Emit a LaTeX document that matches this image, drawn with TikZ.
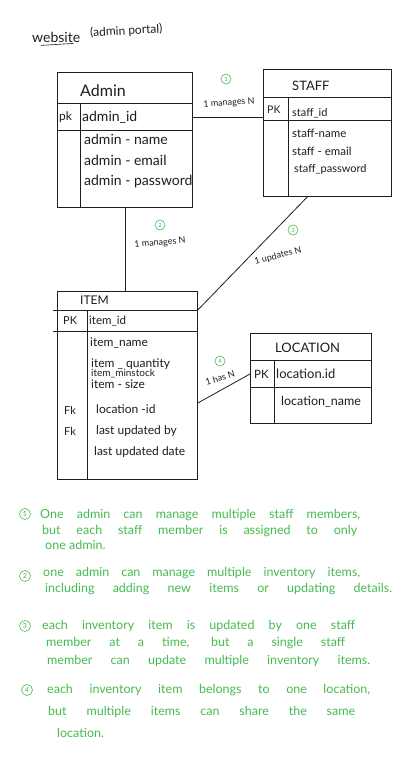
\documentclass[tikz,border=0pt]{standalone}
\usepackage{fontspec}
\setmainfont{Lato}

\definecolor{notegreen}{RGB}{70,188,80}
\definecolor{ink}{RGB}{30,30,30}

\def\adminWidth{135}
\def\adminHeight{135}
\def\staffWidth{128}
\def\staffHeight{127}
\def\itemWidth{140}
\def\itemHeight{188}
\def\locWidth{121}
\def\locHeight{90}

\newcommand{\fsz}[1]{\fontsize{#1}{#1}\selectfont}
\newcommand{\noteline}[2]{\makebox[#1pt][s]{#2}}

\begin{document}
\begin{tikzpicture}[x=1pt, y=-1pt,
    tablebox/.style = {draw=ink, line width=0.8pt, anchor=north west, inner sep=0pt},
    attr/.style = {anchor=west, inner sep=0pt, text=ink},
    keytag/.style = {anchor=west, inner sep=0pt, text=ink},
    rel/.style = {draw=ink, line width=0.8pt},
    card/.style = {inner sep=0pt, text=ink, font=\fsz{9}},
    numtag/.style = {circle, draw=notegreen, text=notegreen, line width=0.6pt,
        inner sep=0pt, minimum size=10pt, font=\fsz{6}},
    note/.style = {anchor=west, inner sep=0pt, text=notegreen, font=\fsz{12.5}}
  ]

  \fill[white] (0,0) rectangle (406,769);
  \useasboundingbox (0,0) rectangle (406,769);

  %% title
  \node[attr, font=\fsz{14}] (webtitle) at (32,37) {website};
  \node[attr, font=\fsz{12}, rotate=3] (portal) at (90,33) {(admin portal)};
  \draw[rel, line width=0.6pt]
  ([xshift=9pt,yshift=-3pt]webtitle.south west) -- ([xshift=-7pt,yshift=-1pt]webtitle.south east);

  %% Admin
  \node[tablebox, minimum width=\adminWidth, minimum height=\adminHeight] (admin) at (57,72) {};
  \draw[rel]
  (admin.north west) ++(0,31) -- ++(\adminWidth,0)
  (admin.north west) ++(0,58) -- ++(\adminWidth,0)
  (admin.north west) ++(23,31) -- ++(0,\adminHeight-31)
  ;
  \node[attr, font=\fsz{16}] (admintitle) at (80,91) {Admin};
  \node[keytag, font=\fsz{12}] (adminpk) at (59,117) {pk};
  \node[attr, font=\fsz{14}] (adminid) at (82,117) {admin\_id};
  \node[attr, font=\fsz{14}] (adminname) at (84,139) {admin - name};
  \node[attr, font=\fsz{14}] (adminemail) at (84,160) {admin - email};
  \node[attr, font=\fsz{14}] (adminpass) at (84,182) {admin - password};

  %% Staff
  \node[tablebox, minimum width=\staffWidth, minimum height=\staffHeight] (staff) at (263,69) {};
  \draw[rel]
  (staff.north west) ++(0,28) -- ++(\staffWidth,0)
  (staff.north west) ++(0,51) -- ++(\staffWidth,0)
  (staff.north west) ++(25,28) -- ++(0,\staffHeight-28)
  ;
  \node[attr, font=\fsz{13}] (stafftitle) at (292,86) {STAFF};
  \node[keytag, font=\fsz{10.5}] (staffpk) at (267,110) {PK};
  \node[attr, font=\fsz{11}] (staffid) at (292,113) {staff\_id};
  \node[attr, font=\fsz{11.5}] (staffname) at (292,133) {staff-name};
  \node[attr, font=\fsz{11.5}] (staffemail) at (292,151) {staff - email};
  \node[attr, font=\fsz{11}] (staffpass) at (294,169) {staff\_password};

  %% Item
  \node[tablebox, minimum width=\itemWidth, minimum height=\itemHeight] (item) at (57,291) {};
  \draw[rel]
  (item.north west) ++(-4,19) -- ++(\itemWidth+4,0)
  (item.north west) ++(-4,40) -- ++(\itemWidth+4,0)
  (item.north west) ++(30,19) -- ++(0,\itemHeight-19)
  ;
  \node[attr, font=\fsz{12}] (itemtitle) at (80,300) {ITEM};
  \node[keytag, font=\fsz{11}] (itempk) at (63,321) {PK};
  \node[attr, font=\fsz{11.5}] (itemid) at (89,321) {item\_id};
  \node[attr, font=\fsz{12}] (itemname) at (90,343) {item\_name};
  \node[attr, font=\fsz{12}] (itemqty) at (91,364) {item \_ quantity};
  \node[attr, font=\fsz{10}] (itemmin) at (91,374) {item\_minstock};
  \node[attr, font=\fsz{12}] (itemsize) at (91,384) {item - size};
  \node[keytag, font=\fsz{11}] (itemfk1) at (64,410) {Fk};
  \node[attr, font=\fsz{12}] (itemloc) at (96,409) {location -id};
  \node[keytag, font=\fsz{11}] (itemfk2) at (64,431) {Fk};
  \node[attr, font=\fsz{12}] (itemby) at (96,431) {last updated by};
  \node[attr, font=\fsz{12}] (itemdate) at (94,452) {last updated date};

  %% Location
  \node[tablebox, minimum width=\locWidth, minimum height=\locHeight] (location) at (250,333) {};
  \draw[rel]
  (location.north west) ++(0,27) -- ++(\locWidth,0)
  (location.north west) ++(0,54) -- ++(\locWidth,0)
  (location.north west) ++(24,27) -- ++(0,\locHeight-27)
  ;
  \node[attr, font=\fsz{13}] (loctitle) at (275,348) {LOCATION};
  \node[keytag, font=\fsz{11.5}] (locpk) at (254,374) {PK};
  \node[attr, font=\fsz{13}] (locid) at (276,374) {location.id};
  \node[attr, font=\fsz{12.5}] (locname) at (281,402) {location\_name};

  %% relations
  \draw[rel] (admin.east |- adminid) -- (staff.west |- adminid);
  \draw[rel] (admin.south) -- (admin.south |- item.north);
  \draw[rel] ([xshift=-20pt]staff.south) -- ([yshift=-19pt]item.north east);
  \draw[rel] ([yshift=-112pt]item.north east) -- (location.west |- locid);

  \node[card, rotate=4] (card1) at (229,103) {1 manages N};
  \node[card, rotate=5] (card2) at (160,243) {1 manages N};
  \node[card, rotate=15] (card3) at (278,256) {1 updates N};
  \node[card, rotate=17] (card4) at (220,378) {1 has N};

  \node[numtag] (num1) at (226,79) {1};
  \node[numtag] (num2) at (160,225) {2};
  \node[numtag] (num3) at (293,230) {3};
  \node[numtag] (num4) at (220,361) {4};

  %% notes
  \node[numtag, minimum size=11pt, font=\fsz{7}] (note1tag) at (25,514) {1};
  \node[note] (note1a) at (40,515) {\noteline{320}{One admin can manage multiple staff members,}};
  \node[note] (note1b) at (42,531) {\noteline{315}{but each staff member is assigned to only}};
  \node[note] (note1c) at (45,545) {one admin.};

  \node[numtag, minimum size=11pt, font=\fsz{7}] (note2tag) at (25,576) {2};
  \node[note] (note2a) at (43,573) {\noteline{317}{one admin can manage multiple inventory items,}};
  \node[note] (note2b) at (45,589) {\noteline{347}{including adding new items or updating details.}};

  \node[numtag, minimum size=11pt, font=\fsz{7}] (note3tag) at (25,626) {3};
  \node[note] (note3a) at (42,626) {\noteline{313}{each inventory item is updated by one staff}};
  \node[note] (note3b) at (46,643) {\noteline{299}{member at a time, but a single staff}};
  \node[note] (note3c) at (47,661) {\noteline{323}{member can update multiple inventory items.}};

  \node[numtag, minimum size=11pt, font=\fsz{7}] (note4tag) at (27,690) {4};
  \node[note] (note4a) at (47,690) {\noteline{323}{each inventory item belongs to one location,}};
  \node[note] (note4b) at (48,712) {\noteline{307}{but multiple items can share the same}};
  \node[note] (note4c) at (57,733) {location.};
\end{tikzpicture}
\end{document}
